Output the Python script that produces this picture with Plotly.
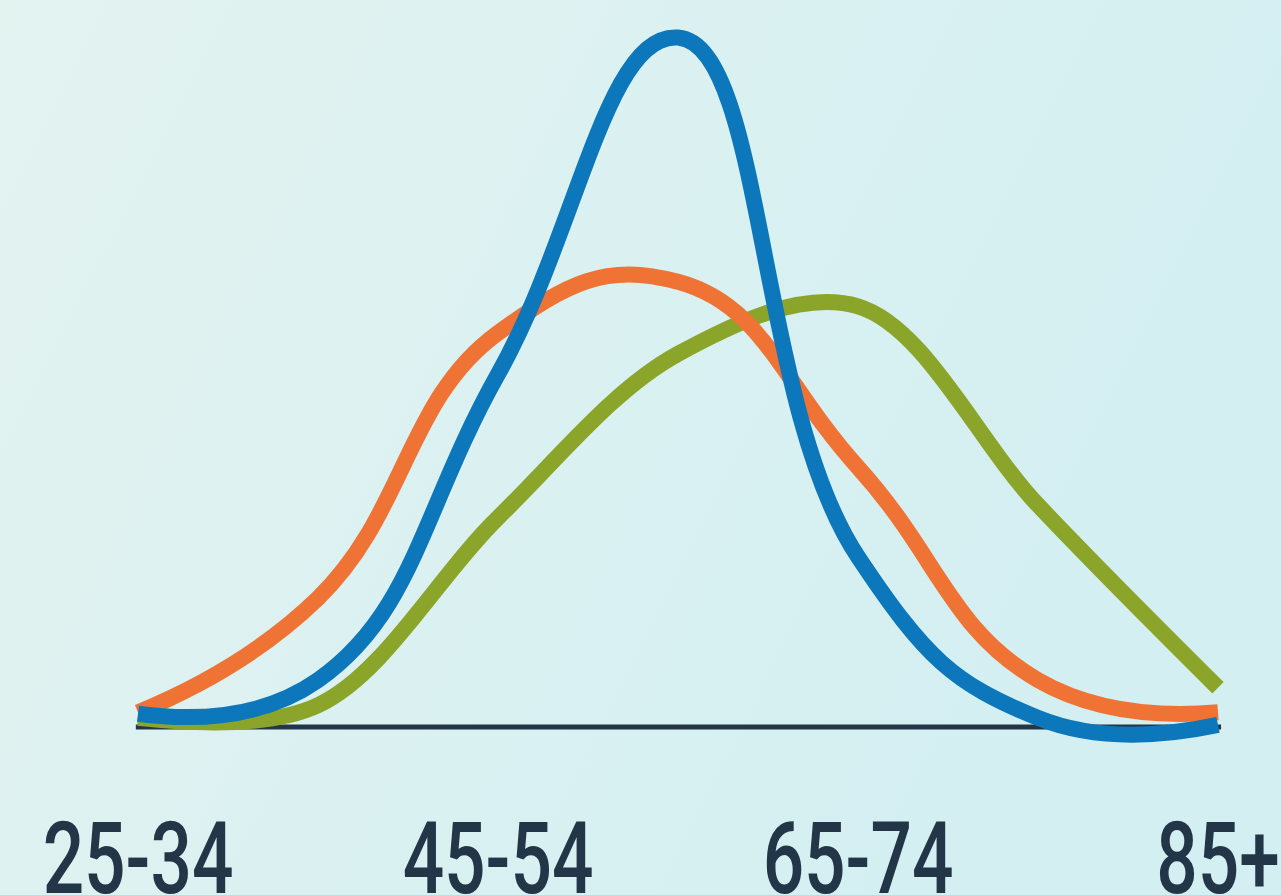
import base64
import plotly.graph_objects as go

# ---- data ----
age_groups = ["25-34", "35-44", "45-54", "55-64", "65-74", "75-84", "85+"]
tick_labels = ["25-34", "45-54", "65-74", "85+"]
orange_vals = [2.1, 18.4, 56.3, 63.6, 37.1, 6.7, 2.1]
green_vals = [1.3, 3.1, 29.9, 53.3, 60.1, 31.7, 5.6]
blue_vals = [1.9, 6.7, 50.4, 98.5, 24.3, 1.3, 0.3]

ORANGE = "#F07336"
GREEN = "#8BA52A"
BLUE = "#0C77BA"
DARK = "#233647"

W, H = 1281, 895
BOTTOM_PX = 783   # bottom of plot domain (pixels from top)
ZERO_PX = 727     # baseline position
PX_PER_UNIT = 7

# background gradient as an svg image
svg = f'''<svg xmlns="http://www.w3.org/2000/svg" width="{W}" height="{H}" preserveAspectRatio="none">
<defs><linearGradient id="g" x1="0" y1="0" x2="1" y2="0.35">
<stop offset="0" stop-color="#E3F3F0"/><stop offset="1" stop-color="#D3EFF2"/>
</linearGradient></defs><rect width="{W}" height="{H}" fill="url(#g)"/></svg>'''
bg_src = "data:image/svg+xml;base64," + base64.b64encode(svg.encode()).decode()

fig = go.Figure()
for vals, col, sm in [(green_vals, GREEN, 1.0), (orange_vals, ORANGE, 1.3), (blue_vals, BLUE, 1.3)]:
    fig.add_trace(go.Scatter(
        x=age_groups, y=vals, mode="lines",
        line=dict(color=col, width=16, shape="spline", smoothing=sm),
        hoverinfo="x+y", showlegend=False,
    ))

fig.add_shape(type="line", xref="x", yref="y", x0=-0.012, x1=6.017, y0=0, y1=0,
              line=dict(color=DARK, width=5), layer="below")

fig.update_layout(
    width=W, height=H, autosize=False,
    margin=dict(l=0, r=0, t=0, b=0, pad=0),
    paper_bgcolor="#DCF1F1",
    plot_bgcolor="rgba(0,0,0,0)",
    images=[dict(source=bg_src, xref="paper", yref="paper", x=0, y=1,
                 sizex=1, sizey=1, xanchor="left", yanchor="top",
                 sizing="stretch", layer="below")],
    xaxis=dict(
        type="category", categoryorder="array", categoryarray=age_groups,
        domain=[120 / W, 1236 / W], range=[-0.1, 6.1],
        tickmode="array", tickvals=tick_labels, ticktext=tick_labels,
        showgrid=False, zeroline=False, showline=False, ticks="",
        automargin=False, ticklabelstandoff=9,
        tickfont=dict(family="Roboto", weight=500, size=100, color=DARK),
    ),
    yaxis=dict(
        domain=[(H - BOTTOM_PX) / H, 1],
        range=[-(BOTTOM_PX - ZERO_PX) / PX_PER_UNIT, ZERO_PX / PX_PER_UNIT],
        showgrid=False, zeroline=False, showline=False, showticklabels=False,
        ticks="", automargin=False,
    ),
)

post = """
document.body.style.margin='0';
var gd = document.getElementById('{plot_id}');
function squeeze(){
  document.querySelectorAll('.xtick text').forEach(function(t){
    var tr = t.getAttribute('transform') || '';
    if (tr.indexOf('scale') < 0) {
      var x = parseFloat(t.getAttribute('x')) || 0;
      t.setAttribute('transform', tr + ' translate(' + x + ',0) scale(0.73,1) translate(' + (-x) + ',0)');
    }
  });
}
squeeze();
gd.on('plotly_afterplot', squeeze);
"""

fig.write_html("out.html", post_script=post, config={"displayModeBar": False})
